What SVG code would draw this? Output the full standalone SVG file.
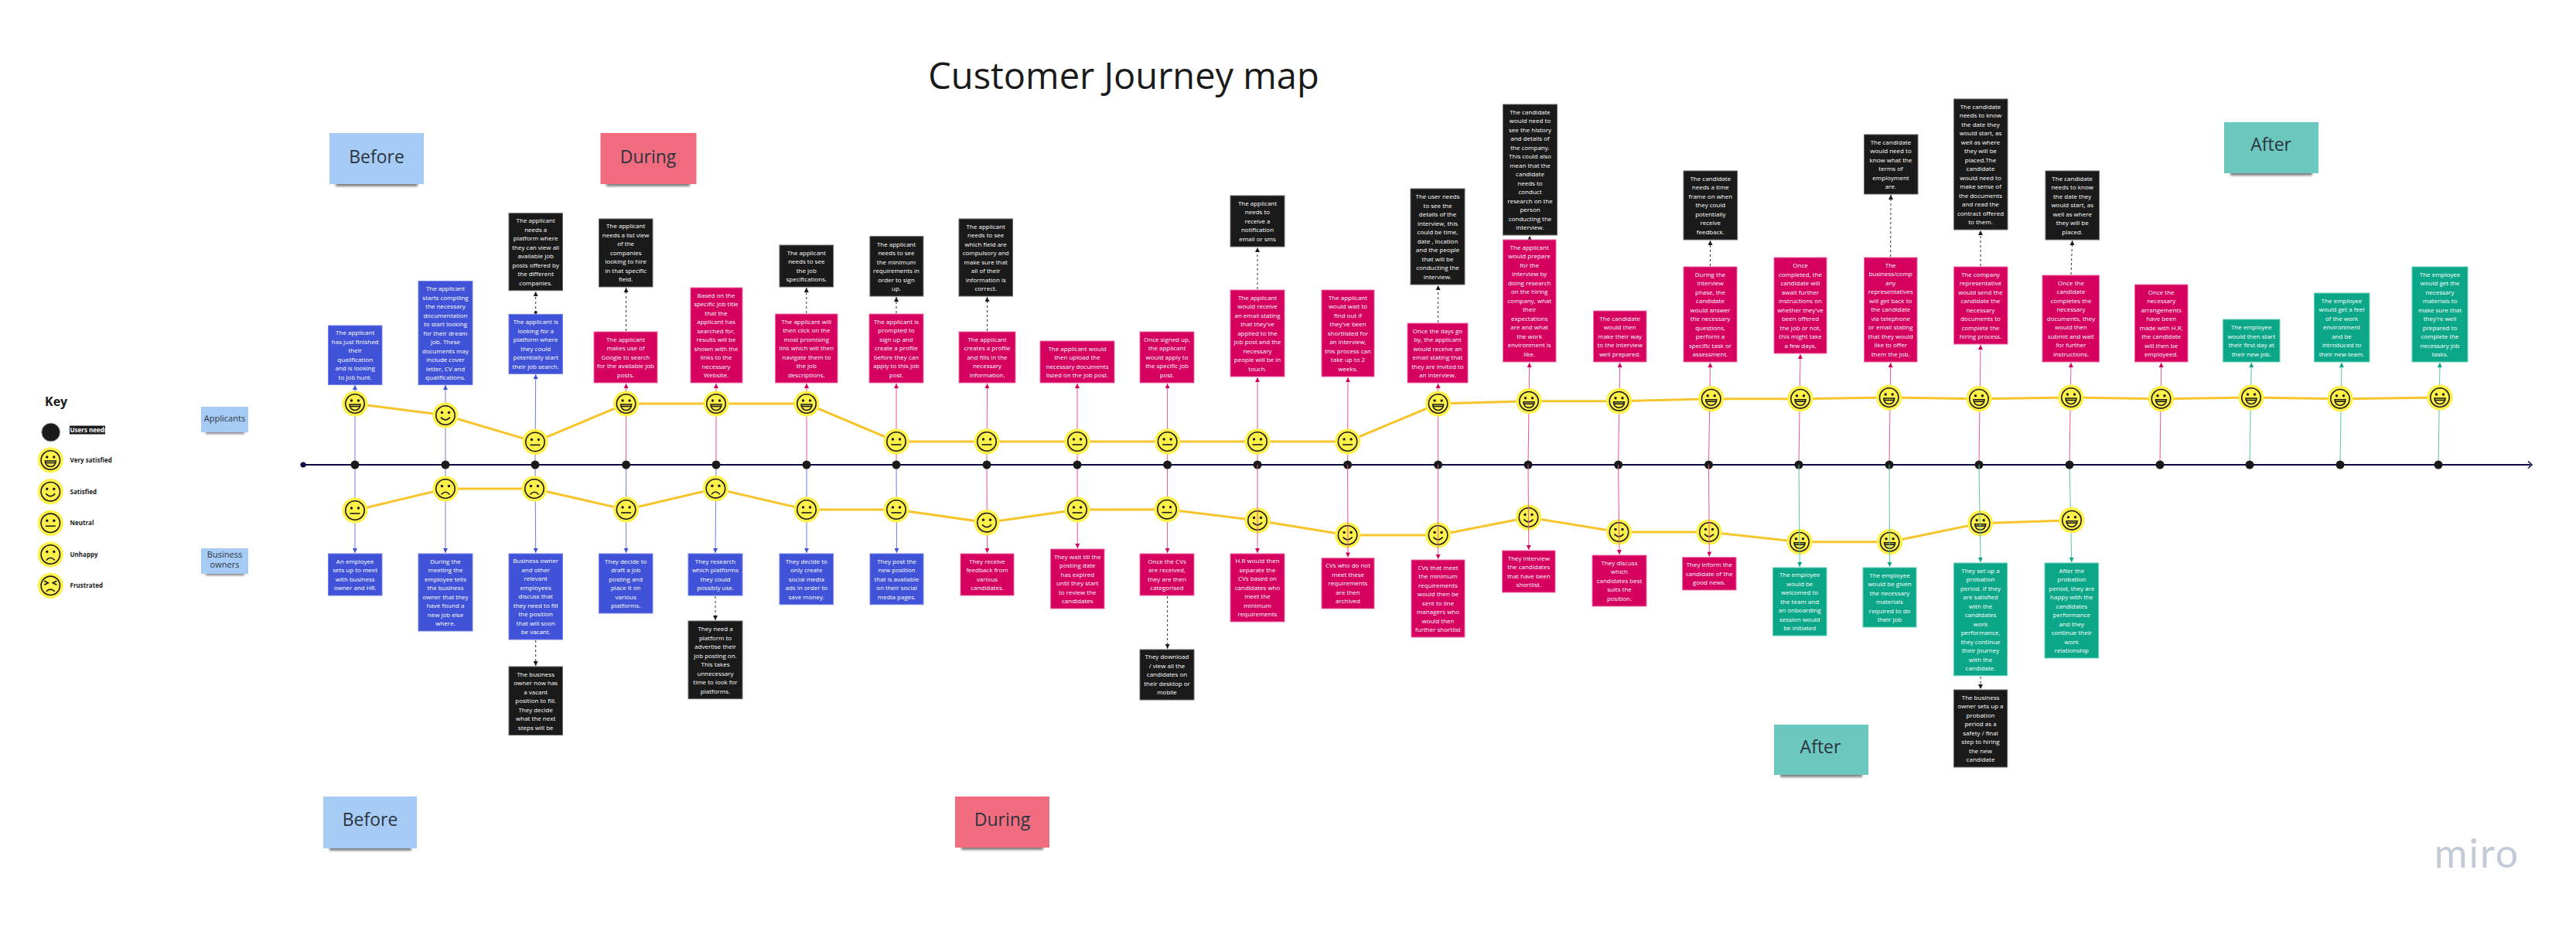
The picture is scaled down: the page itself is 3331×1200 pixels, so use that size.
<svg xmlns="http://www.w3.org/2000/svg" width="3331" height="1200" viewBox="0 0 3331 1200">
<style>
text{font-family:"Open Sans","Noto Sans","Liberation Sans",sans-serif}
.t{font-size:8px;fill:#fff;text-anchor:middle}
.bl{fill:#4053d8;stroke:#7484e8;stroke-width:1}
.pk{fill:#d5005f;stroke:#ef70aa;stroke-width:1}
.gr{fill:#0ca789;stroke:#66d2bc;stroke-width:1}
.bk{fill:#1a1a1a;stroke:#6a6a6a;stroke-width:1}
.st{font-size:23px;fill:#2c3440;text-anchor:middle}
.sm{font-size:11px;fill:#2c3440;text-anchor:middle}
.k{font-size:8px;font-weight:700;fill:#1a1a1a}
.sh{fill:#000;opacity:.5;filter:url(#blur)}
.cb{stroke:#6f7cdc;stroke-width:1;fill:none;marker-end:url(#ab)}
.cp{stroke:#e4559c;stroke-width:1;fill:none;marker-end:url(#ap)}
.cg{stroke:#58c2ac;stroke-width:1;fill:none;marker-end:url(#ag)}
.cd{stroke:#333;stroke-width:1;fill:none;stroke-dasharray:3 3;marker-end:url(#ak)}
.mood{stroke:#f7c52b;stroke-width:3;fill:none}
.fl{fill:#1a1a1a;stroke:none}
.fs{fill:none;stroke:#1a1a1a;stroke-width:1.6}
</style>
<defs>
<filter id="blur" x="-20%" y="-200%" width="140%" height="500%"><feGaussianBlur stdDeviation="1.8"/></filter>
<marker id="ab" markerUnits="userSpaceOnUse" markerWidth="7" markerHeight="7" refX="6" refY="3" orient="auto"><path d="M0 0L6 3L0 6Z" fill="#4053d8"/></marker>
<marker id="ap" markerUnits="userSpaceOnUse" markerWidth="7" markerHeight="7" refX="6" refY="3" orient="auto"><path d="M0 0L6 3L0 6Z" fill="#d5005f"/></marker>
<marker id="ag" markerUnits="userSpaceOnUse" markerWidth="7" markerHeight="7" refX="6" refY="3" orient="auto"><path d="M0 0L6 3L0 6Z" fill="#0ca789"/></marker>
<marker id="ak" markerUnits="userSpaceOnUse" markerWidth="7" markerHeight="7" refX="6" refY="3" orient="auto"><path d="M0 0L6 3L0 6Z" fill="#1a1a1a"/></marker>
<g id="vs"><circle r="16.6" fill="#fef24a"/><circle r="12.2" class="fs"/><circle cx="-4.5" cy="-4" r="1.7" class="fl"/><circle cx="4.5" cy="-4" r="1.7" class="fl"/><path d="M-7 1H7C7 6 3.5 8.5 0 8.5C-3.5 8.5-7 6-7 1Z" class="fs"/><path d="M-6.5 3.5H6.5" class="fs"/></g>
<g id="sa"><circle r="16.6" fill="#fef24a"/><circle r="12.2" class="fs"/><circle cx="-4.5" cy="-3.5" r="1.7" class="fl"/><circle cx="4.5" cy="-3.5" r="1.7" class="fl"/><path d="M-6 2.5Q0 9.5 6 2.5" class="fs"/></g>
<g id="ne"><circle r="16.6" fill="#fef24a"/><circle r="12.2" class="fs"/><circle cx="-4.5" cy="-3" r="1.7" class="fl"/><circle cx="4.5" cy="-3" r="1.7" class="fl"/><path d="M-6.5 4H6.5" class="fs"/></g>
<g id="un"><circle r="16.6" fill="#fef24a"/><circle r="12.2" class="fs"/><circle cx="-4.5" cy="-3.5" r="1.7" class="fl"/><circle cx="4.5" cy="-3.5" r="1.7" class="fl"/><path d="M-5.5 7.5Q0 1 5.5 7.5" class="fs"/></g>
<g id="fr"><circle r="16.6" fill="#fef24a"/><circle r="12.2" class="fs"/><path d="M-8-6L-3-3.5L-8-1M8-6L3-3.5L8-1" class="fs"/><path d="M-5.5 7.5Q0 2 5.5 7.5" class="fs"/></g>
</defs>

<text id="title" x="1453" y="115" font-size="47" fill="#1a1a1a" text-anchor="middle">Customer Journey map</text>

<g id="sticky-before-top"><rect x="434" y="235" width="106" height="6" class="sh"/><rect x="426" y="172" width="122" height="66" fill="#a6ccf5"/><text x="487" y="211" class="st">Before</text></g>
<g id="sticky-during-top"><rect x="784" y="235" width="108" height="6" class="sh"/><rect x="776.5" y="172" width="124" height="66" fill="#f16c7f"/><text x="838" y="211" class="st">During</text></g>
<g id="sticky-after-top"><rect x="2884" y="221" width="106" height="6" class="sh"/><rect x="2876" y="158" width="122" height="66" fill="#6cc8bf"/><text x="2936.6" y="195" class="st">After</text></g>
<g id="sticky-before-bottom"><rect x="426" y="1094" width="106" height="6" class="sh"/><rect x="418" y="1030" width="121" height="67" fill="#a6ccf5"/><text x="478.6" y="1068" class="st">Before</text></g>
<g id="sticky-during-bottom"><rect x="1243" y="1093" width="106" height="6" class="sh"/><rect x="1235" y="1030" width="122" height="66" fill="#f16c7f"/><text x="1296" y="1068" class="st">During</text></g>
<g id="sticky-after-bottom"><rect x="2302" y="999" width="106" height="6" class="sh"/><rect x="2294" y="937" width="122" height="65" fill="#6cc8bf"/><text x="2354" y="974" class="st">After</text></g>
<g id="sticky-applicants"><rect x="266" y="557" width="50" height="4" class="sh"/><rect x="260" y="526" width="61" height="33" fill="#a6ccf5"/><text x="290.5" y="544.5" class="sm">Applicants</text></g>
<g id="sticky-owners"><rect x="266" y="740" width="50" height="4" class="sh"/><rect x="260" y="709" width="61" height="33" fill="#a6ccf5"/><text x="290.5" y="720.5" class="sm">Business</text><text x="290.5" y="734" class="sm">owners</text></g>

<g id="key">
<text x="58" y="525" font-size="16" font-weight="700" fill="#1a1a1a">Key</text>
<circle cx="65.7" cy="559" r="12" fill="#1a1a1a" stroke="#bbb" stroke-width="1"/>
<rect x="90" y="550.5" width="46" height="11" fill="#1a1a1a"/><text x="90.5" y="559" class="k" style="fill:#fff">Users needs</text>
<use href="#vs" x="65.3" y="595"/><text x="90.5" y="598" class="k">Very satisfied</text>
<use href="#sa" x="65.3" y="635.7"/><text x="90.5" y="639" class="k">Satisfied</text>
<use href="#ne" x="65.3" y="676.3"/><text x="90.5" y="679" class="k">Neutral</text>
<use href="#un" x="65.3" y="717"/><text x="90.5" y="720" class="k">Unhappy</text>
<use href="#fr" x="65.3" y="757.3"/><text x="90.5" y="760" class="k">Frustrated</text>
</g>

<g id="connectors">
<path d="M392 601H3272" stroke="#0d0b45" stroke-width="2" fill="none"/>
<path d="M3269 596.5L3274 601L3269 605.5" stroke="#0d0b45" stroke-width="1.6" fill="none"/>
<path class="cb" d="M459 601L459 498"/><path class="cb" d="M576 601L576 498"/><path class="cb" d="M692 601L692.7 484"/>
<path class="cp" d="M809.6 601L809.6 496"/><path class="cp" d="M926 601L926 496"/><path class="cp" d="M1043 601L1043 496"/><path class="cp" d="M1159 601L1159 496"/><path class="cp" d="M1276 601L1276.5 496"/><path class="cp" d="M1393 601L1393 496"/><path class="cp" d="M1509.6 601L1509.6 496"/><path class="cp" d="M1626 601L1626 488"/><path class="cp" d="M1742.6 601L1743 488"/><path class="cp" d="M1859.6 601L1859.6 496"/><path class="cp" d="M1976 601L1977.7 469"/><path class="cp" d="M2092.6 601L2094.7 469"/><path class="cp" d="M2209.5 601L2211.5 469"/><path class="cp" d="M2326 601L2328 458"/><path class="cp" d="M2443 601L2444.7 469"/><path class="cp" d="M2559 601L2561 446"/><path class="cp" d="M2676 601L2678 469"/><path class="cp" d="M2793 601L2794.7 469"/>
<path class="cg" d="M2909 601L2911.3 469"/><path class="cg" d="M3026 601L3028 469"/><path class="cg" d="M3153 601L3155 469"/>
<path class="cb" d="M459 601L459 715"/><path class="cb" d="M576 601L576 715"/><path class="cb" d="M692 601L692.7 715"/><path class="cb" d="M809.6 601L809.6 715"/><path class="cb" d="M926 601L925 715"/><path class="cb" d="M1043 601L1043 715"/><path class="cb" d="M1159 601L1159.5 715"/>
<path class="cp" d="M1276 601L1276.5 715"/><path class="cp" d="M1393 601L1393.3 709"/><path class="cp" d="M1509.6 601L1509.6 715"/>
<path class="cg" d="M2676 601L2678.8 727"/>
<path class="cd" d="M692.7 405L692.7 377"/><circle cx="692.7" cy="404" r="2" fill="#1a1a1a"/>
<path class="cd" d="M809.6 428L809.6 372"/><path class="cd" d="M1042.8 405L1042.8 372"/><path class="cd" d="M1159 405L1159 384"/><path class="cd" d="M1276.5 428L1276.5 384"/>
<path class="cd" d="M1626 374L1626 320"/><path class="cd" d="M1859.6 417L1859.6 369"/><path class="cd" d="M1978 309L1978 305"/><path class="cd" d="M2211.5 344L2211.5 311"/><path class="cd" d="M2444.7 332L2445 252"/><path class="cd" d="M2561 344L2561 298"/><path class="cd" d="M2678 355L2679.7 311"/>
<path class="cd" d="M692.7 828L692.7 861"/><path class="cd" d="M925 771L925 802"/><path class="cd" d="M1509.6 771L1509.6 839"/><path class="cd" d="M2561 875L2561 891"/>
<path class="mood" d="M459 522L576 537L692 571.4L809.6 522L926 522L1043 522L1159 571L1276 571L1393 571L1509.6 571L1626 571L1742.6 571L1859.6 522L1977 518.7L2093.5 518.7L2212.7 515.7L2328 515.7L2442.7 514L2559 515.7L2678 514L2794.5 515.7L2911 514L3026 515.7L3155 514"/>
<path class="mood" d="M459 660L576 632L691 632L809.6 659L925.4 631.7L1043 659L1159 659L1276 675.7L1393 659L1509 658.7L1626 673L1742.6 692L1859.6 692L1976.5 669L2093.5 688L2210 688L2327 700.7L2443.6 700.7L2560.7 676.7L2679 672.7"/>
</g>

<g id="axis-dots" fill="#1a1a1a">
<circle cx="392" cy="601" r="3.6" fill="#0d0b45"/>
<circle cx="459" cy="601" r="5.5"/><circle cx="576" cy="601" r="5.5"/><circle cx="692" cy="601" r="5.5"/><circle cx="809.6" cy="601" r="5.5"/><circle cx="926" cy="601" r="5.5"/><circle cx="1043" cy="601" r="5.5"/><circle cx="1159" cy="601" r="5.5"/><circle cx="1276" cy="601" r="5.5"/><circle cx="1393" cy="601" r="5.5"/><circle cx="1509.6" cy="601" r="5.5"/><circle cx="1626" cy="601" r="5.5"/><circle cx="1742.6" cy="601" r="5.5"/><circle cx="1859.6" cy="601" r="5.5"/><circle cx="1976" cy="601" r="5.5"/><circle cx="2092.6" cy="601" r="5.5"/><circle cx="2209.5" cy="601" r="5.5"/><circle cx="2326" cy="601" r="5.5"/><circle cx="2443" cy="601" r="5.5"/><circle cx="2559" cy="601" r="5.5"/><circle cx="2676" cy="601" r="5.5"/><circle cx="2793" cy="601" r="5.5"/><circle cx="2909" cy="601" r="5.5"/><circle cx="3026" cy="601" r="5.5"/><circle cx="3153" cy="601" r="5.5"/>
</g>

<g id="faces">
<use id="fa1" href="#vs" x="459" y="522"/><use id="fa2" href="#sa" x="576" y="537"/><use id="fa3" href="#ne" x="692" y="571.4"/><use id="fa4" href="#vs" x="809.6" y="522"/><use id="fa5" href="#vs" x="926" y="522"/><use id="fa6" href="#vs" x="1043" y="522"/><use id="fa7" href="#ne" x="1159" y="571"/><use id="fa8" href="#ne" x="1276" y="571"/><use id="fa9" href="#ne" x="1393" y="571"/><use id="fa10" href="#ne" x="1509.6" y="571"/><use id="fa11" href="#ne" x="1626" y="571"/><use id="fa12" href="#ne" x="1742.6" y="571"/><use id="fa13" href="#vs" x="1859.6" y="522"/><use id="fa14" href="#vs" x="1977" y="518.7"/><use id="fa15" href="#vs" x="2093.5" y="518.7"/><use id="fa16" href="#vs" x="2212.7" y="515.7"/><use id="fa17" href="#vs" x="2328" y="515.7"/><use id="fa18" href="#vs" x="2442.7" y="514"/><use id="fa19" href="#vs" x="2559" y="515.7"/><use id="fa20" href="#vs" x="2678" y="514"/><use id="fa21" href="#vs" x="2794.5" y="515.7"/><use id="fa22" href="#vs" x="2911" y="514"/><use id="fa23" href="#vs" x="3026" y="515.7"/><use id="fa24" href="#vs" x="3155" y="514"/>
<use id="fb1" href="#ne" x="459" y="660"/><use id="fb2" href="#un" x="576" y="632"/><use id="fb3" href="#un" x="691" y="632"/><use id="fb4" href="#ne" x="809.6" y="659"/><use id="fb5" href="#un" x="925.4" y="631.7"/><use id="fb6" href="#ne" x="1043" y="659"/><use id="fb7" href="#ne" x="1159" y="659"/><use id="fb8" href="#sa" x="1276" y="675.7"/><use id="fb9" href="#ne" x="1393" y="659"/><use id="fb10" href="#ne" x="1509" y="658.7"/><use id="fb11" href="#sa" x="1626" y="673"/><use id="fb12" href="#sa" x="1742.6" y="692"/><use id="fb13" href="#sa" x="1859.6" y="692"/><use id="fb14" href="#sa" x="1976.5" y="669"/><use id="fb15" href="#sa" x="2093.5" y="688"/><use id="fb16" href="#sa" x="2210" y="688"/><use id="fb17" href="#vs" x="2327" y="700.7"/><use id="fb18" href="#vs" x="2443.6" y="700.7"/><use id="fb19" href="#vs" x="2560.7" y="676.7"/><use id="fb20" href="#vs" x="2679" y="672.7"/>
</g>

<g id="connectors-over">
<path class="cp" d="M1626 601L1626 715"/><path class="cp" d="M1742.6 601L1743 720.5"/><path class="cp" d="M1859.6 601L1859.6 723"/><path class="cp" d="M1976 601L1976.8 711"/><path class="cp" d="M2092.6 601L2094 717"/><path class="cp" d="M2209.5 601L2210.3 719.5"/>
<path class="cg" d="M2326 601L2327.2 733"/><path class="cg" d="M2443 601L2443.5 733"/><path class="cg" d="M2559 601L2561 727"/>
</g>

<g id="a1"><rect class="bl" x="424.5" y="421" width="69.5" height="76.5"/><text class="t" y="433.3"><tspan x="459.2">The applicant</tspan><tspan x="459.2" dy="11.5">has just finished</tspan><tspan x="459.2" dy="11.5">their</tspan><tspan x="459.2" dy="11.5">qualification</tspan><tspan x="459.2" dy="11.5">and is looking</tspan><tspan x="459.2" dy="11.5">to job hunt.</tspan></text></g>
<g id="a2"><rect class="bl" x="541" y="363.6" width="70" height="134"/><text class="t" y="376"><tspan x="576">The applicant</tspan><tspan x="576" dy="11.5">starts compiling</tspan><tspan x="576" dy="11.5">the necessary</tspan><tspan x="576" dy="11.5">documentation</tspan><tspan x="576" dy="11.5">to start looking</tspan><tspan x="576" dy="11.5">for their dream</tspan><tspan x="576" dy="11.5">job. These</tspan><tspan x="576" dy="11.5">documents may</tspan><tspan x="576" dy="11.5">include cover</tspan><tspan x="576" dy="11.5">letter, CV and</tspan><tspan x="576" dy="11.5">qualifications.</tspan></text></g>
<g id="a3"><rect class="bl" x="658" y="406.4" width="69.5" height="77"/><text class="t" y="419.1"><tspan x="692.7">The applicant is</tspan><tspan x="692.7" dy="11.5">looking for a</tspan><tspan x="692.7" dy="11.5">platform where</tspan><tspan x="692.7" dy="11.5">they could</tspan><tspan x="692.7" dy="11.5">potentially start</tspan><tspan x="692.7" dy="11.5">their job search.</tspan></text></g>
<g id="a3n"><rect class="bk" x="658" y="275.7" width="69.5" height="100"/><text class="t" y="288.4"><tspan x="692.7">The applicant</tspan><tspan x="692.7" dy="11.5">needs a</tspan><tspan x="692.7" dy="11.5">platform where</tspan><tspan x="692.7" dy="11.5">they can view all</tspan><tspan x="692.7" dy="11.5">available job</tspan><tspan x="692.7" dy="11.5">posts offered by</tspan><tspan x="692.7" dy="11.5">the different</tspan><tspan x="692.7" dy="11.5">companies.</tspan></text></g>
<g id="a4"><rect class="pk" x="768" y="429" width="82" height="66"/><text class="t" y="441.9"><tspan x="809">The applicant</tspan><tspan x="809" dy="11.5">makes use of</tspan><tspan x="809" dy="11.5">Google to search</tspan><tspan x="809" dy="11.5">for the available job</tspan><tspan x="809" dy="11.5">posts.</tspan></text></g>
<g id="a4n"><rect class="bk" x="774.5" y="283" width="69.5" height="88"/><text class="t" y="295.4"><tspan x="809.2">The applicant</tspan><tspan x="809.2" dy="11.5">needs a list view</tspan><tspan x="809.2" dy="11.5">of the</tspan><tspan x="809.2" dy="11.5">companies</tspan><tspan x="809.2" dy="11.5">looking to hire</tspan><tspan x="809.2" dy="11.5">in that specific</tspan><tspan x="809.2" dy="11.5">field.</tspan></text></g>
<g id="a5"><rect class="pk" x="893" y="372" width="67" height="123"/><text class="t" y="384.6"><tspan x="926">Based on the</tspan><tspan x="926" dy="11.5">specific job title</tspan><tspan x="926" dy="11.5">that the</tspan><tspan x="926" dy="11.5">applicant has</tspan><tspan x="926" dy="11.5">searched for,</tspan><tspan x="926" dy="11.5">results will be</tspan><tspan x="926" dy="11.5">shown with the</tspan><tspan x="926" dy="11.5">links to the</tspan><tspan x="926" dy="11.5">necessary</tspan><tspan x="926" dy="11.5">Website.</tspan></text></g>
<g id="a6"><rect class="pk" x="1002.5" y="406" width="80.5" height="89"/><text class="t" y="418.9"><tspan x="1042.8">The applicant will</tspan><tspan x="1042.8" dy="11.5">then click on the</tspan><tspan x="1042.8" dy="11.5">most promising</tspan><tspan x="1042.8" dy="11.5">link which will then</tspan><tspan x="1042.8" dy="11.5">navigate them to</tspan><tspan x="1042.8" dy="11.5">the job</tspan><tspan x="1042.8" dy="11.5">descriptions.</tspan></text></g>
<g id="a6n"><rect class="bk" x="1008" y="317" width="69.5" height="54"/><text class="t" y="329.7"><tspan x="1042.8">The applicant</tspan><tspan x="1042.8" dy="11.5">needs to see</tspan><tspan x="1042.8" dy="11.5">the job</tspan><tspan x="1042.8" dy="11.5">specifications.</tspan></text></g>
<g id="a7"><rect class="pk" x="1124" y="406" width="70" height="89"/><text class="t" y="418.9"><tspan x="1159">The applicant is</tspan><tspan x="1159" dy="11.5">prompted to</tspan><tspan x="1159" dy="11.5">sign up and</tspan><tspan x="1159" dy="11.5">create a profile</tspan><tspan x="1159" dy="11.5">before they can</tspan><tspan x="1159" dy="11.5">apply to this job</tspan><tspan x="1159" dy="11.5">post.</tspan></text></g>
<g id="a7n"><rect class="bk" x="1124.9" y="305.7" width="69" height="77.3"/><text class="t" y="318.5"><tspan x="1159">The applicant</tspan><tspan x="1159" dy="11.5">needs to see</tspan><tspan x="1159" dy="11.5">the minimum</tspan><tspan x="1159" dy="11.5">requirements in</tspan><tspan x="1159" dy="11.5">order to sign</tspan><tspan x="1159" dy="11.5">up.</tspan></text></g>
<g id="a8"><rect class="pk" x="1240" y="429" width="73" height="66"/><text class="t" y="441.9"><tspan x="1276.5">The applicant</tspan><tspan x="1276.5" dy="11.5">creates a profile</tspan><tspan x="1276.5" dy="11.5">and fills in the</tspan><tspan x="1276.5" dy="11.5">necessary</tspan><tspan x="1276.5" dy="11.5">information.</tspan></text></g>
<g id="a8n"><rect class="bk" x="1240" y="283" width="69.5" height="100"/><text class="t" y="295.65"><tspan x="1274.7">The applicant</tspan><tspan x="1274.7" dy="11.5">needs to see</tspan><tspan x="1274.7" dy="11.5">which field are</tspan><tspan x="1274.7" dy="11.5">compulsory and</tspan><tspan x="1274.7" dy="11.5">make sure that</tspan><tspan x="1274.7" dy="11.5">all of their</tspan><tspan x="1274.7" dy="11.5">information is</tspan><tspan x="1274.7" dy="11.5">correct.</tspan></text></g>
<g id="a9"><rect class="pk" x="1345" y="441" width="96" height="54"/><text class="t" y="453.65"><tspan x="1393">The applicant would</tspan><tspan x="1393" dy="11.5">then upload the</tspan><tspan x="1393" dy="11.5">necessary documents</tspan><tspan x="1393" dy="11.5">listed on the job post.</tspan></text></g>
<g id="a10"><rect class="pk" x="1474" y="429" width="70" height="66"/><text class="t" y="441.9"><tspan x="1509">Once signed up,</tspan><tspan x="1509" dy="11.5">the applicant</tspan><tspan x="1509" dy="11.5">would apply to</tspan><tspan x="1509" dy="11.5">the specific job</tspan><tspan x="1509" dy="11.5">post.</tspan></text></g>
<g id="a11"><rect class="pk" x="1591" y="375" width="70" height="112"/><text class="t" y="387.9"><tspan x="1626">The applicant</tspan><tspan x="1626" dy="11.5">would receive</tspan><tspan x="1626" dy="11.5">an email stating</tspan><tspan x="1626" dy="11.5">that they've</tspan><tspan x="1626" dy="11.5">applied to the</tspan><tspan x="1626" dy="11.5">job post and the</tspan><tspan x="1626" dy="11.5">necessary</tspan><tspan x="1626" dy="11.5">people will be in</tspan><tspan x="1626" dy="11.5">touch.</tspan></text></g>
<g id="a11n"><rect class="bk" x="1591" y="253" width="70" height="66"/><text class="t" y="265.9"><tspan x="1626">The applicant</tspan><tspan x="1626" dy="11.5">needs to</tspan><tspan x="1626" dy="11.5">receive a</tspan><tspan x="1626" dy="11.5">notification</tspan><tspan x="1626" dy="11.5">email or sms</tspan></text></g>
<g id="a12"><rect class="pk" x="1709" y="375" width="68" height="112"/><text class="t" y="387.9"><tspan x="1743">The applicant</tspan><tspan x="1743" dy="11.5">would wait to</tspan><tspan x="1743" dy="11.5">find out if</tspan><tspan x="1743" dy="11.5">they've been</tspan><tspan x="1743" dy="11.5">shortlisted for</tspan><tspan x="1743" dy="11.5">an interview,</tspan><tspan x="1743" dy="11.5">this process can</tspan><tspan x="1743" dy="11.5">take up to 2</tspan><tspan x="1743" dy="11.5">weeks.</tspan></text></g>
<g id="a13"><rect class="pk" x="1820" y="418" width="78" height="77"/><text class="t" y="430.65"><tspan x="1859">Once the days go</tspan><tspan x="1859" dy="11.5">by, the applicant</tspan><tspan x="1859" dy="11.5">would receive an</tspan><tspan x="1859" dy="11.5">email stating that</tspan><tspan x="1859" dy="11.5">they are invited to</tspan><tspan x="1859" dy="11.5">an interview.</tspan></text></g>
<g id="a13n"><rect class="bk" x="1824" y="244" width="70" height="124"/><text class="t" y="257.15"><tspan x="1859">The user needs</tspan><tspan x="1859" dy="11.5">to see the</tspan><tspan x="1859" dy="11.5">details of the</tspan><tspan x="1859" dy="11.5">interview, this</tspan><tspan x="1859" dy="11.5">could be time,</tspan><tspan x="1859" dy="11.5">date , location</tspan><tspan x="1859" dy="11.5">and the people</tspan><tspan x="1859" dy="11.5">that will be</tspan><tspan x="1859" dy="11.5">conducting the</tspan><tspan x="1859" dy="11.5">interview.</tspan></text></g>
<g id="a14"><rect class="pk" x="1943.5" y="310" width="68.5" height="158"/><text class="t" y="322.9"><tspan x="1977.7">The applicant</tspan><tspan x="1977.7" dy="11.5">would prepare</tspan><tspan x="1977.7" dy="11.5">for the</tspan><tspan x="1977.7" dy="11.5">interview by</tspan><tspan x="1977.7" dy="11.5">doing research</tspan><tspan x="1977.7" dy="11.5">on the hiring</tspan><tspan x="1977.7" dy="11.5">company, what</tspan><tspan x="1977.7" dy="11.5">their</tspan><tspan x="1977.7" dy="11.5">expectations</tspan><tspan x="1977.7" dy="11.5">are and what</tspan><tspan x="1977.7" dy="11.5">the work</tspan><tspan x="1977.7" dy="11.5">environment is</tspan><tspan x="1977.7" dy="11.5">like.</tspan></text></g>
<g id="a14n"><rect class="bk" x="1943.5" y="135" width="70" height="169"/><text class="t" y="147.65"><tspan x="1978.5">The candidate</tspan><tspan x="1978.5" dy="11.5">would need to</tspan><tspan x="1978.5" dy="11.5">see the history</tspan><tspan x="1978.5" dy="11.5">and details of</tspan><tspan x="1978.5" dy="11.5">the company.</tspan><tspan x="1978.5" dy="11.5">This could also</tspan><tspan x="1978.5" dy="11.5">mean that the</tspan><tspan x="1978.5" dy="11.5">candidate</tspan><tspan x="1978.5" dy="11.5">needs to</tspan><tspan x="1978.5" dy="11.5">conduct</tspan><tspan x="1978.5" dy="11.5">research on the</tspan><tspan x="1978.5" dy="11.5">person</tspan><tspan x="1978.5" dy="11.5">conducting the</tspan><tspan x="1978.5" dy="11.5">interview.</tspan></text></g>
<g id="a15"><rect class="pk" x="2060.5" y="402" width="68.5" height="66"/><text class="t" y="414.9"><tspan x="2094.7">The candidate</tspan><tspan x="2094.7" dy="11.5">would then</tspan><tspan x="2094.7" dy="11.5">make their way</tspan><tspan x="2094.7" dy="11.5">to the interview</tspan><tspan x="2094.7" dy="11.5">well prepared.</tspan></text></g>
<g id="a16"><rect class="pk" x="2177" y="345" width="69" height="123"/><text class="t" y="357.65"><tspan x="2211.5">During the</tspan><tspan x="2211.5" dy="11.5">interview</tspan><tspan x="2211.5" dy="11.5">phase, the</tspan><tspan x="2211.5" dy="11.5">candidate</tspan><tspan x="2211.5" dy="11.5">would answer</tspan><tspan x="2211.5" dy="11.5">the necessary</tspan><tspan x="2211.5" dy="11.5">questions,</tspan><tspan x="2211.5" dy="11.5">perform a</tspan><tspan x="2211.5" dy="11.5">specific task or</tspan><tspan x="2211.5" dy="11.5">assessment.</tspan></text></g>
<g id="a16n"><rect class="bk" x="2177" y="221" width="69.6" height="89"/><text class="t" y="233.9"><tspan x="2211.8">The candidate</tspan><tspan x="2211.8" dy="11.5">needs a time</tspan><tspan x="2211.8" dy="11.5">frame on when</tspan><tspan x="2211.8" dy="11.5">they could</tspan><tspan x="2211.8" dy="11.5">potentially</tspan><tspan x="2211.8" dy="11.5">receive</tspan><tspan x="2211.8" dy="11.5">feedback.</tspan></text></g>
<g id="a17"><rect class="pk" x="2294" y="333" width="68" height="124"/><text class="t" y="346.15"><tspan x="2328">Once</tspan><tspan x="2328" dy="11.5">completed, the</tspan><tspan x="2328" dy="11.5">candidate will</tspan><tspan x="2328" dy="11.5">await further</tspan><tspan x="2328" dy="11.5">instructions on</tspan><tspan x="2328" dy="11.5">whether they've</tspan><tspan x="2328" dy="11.5">been offered</tspan><tspan x="2328" dy="11.5">the job or not,</tspan><tspan x="2328" dy="11.5">this might take</tspan><tspan x="2328" dy="11.5">a few days.</tspan></text></g>
<g id="a18"><rect class="pk" x="2410.5" y="333" width="68.5" height="135"/><text class="t" y="345.9"><tspan x="2444.7">The</tspan><tspan x="2444.7" dy="11.5">business/comp</tspan><tspan x="2444.7" dy="11.5">any</tspan><tspan x="2444.7" dy="11.5">representatives</tspan><tspan x="2444.7" dy="11.5">will get back to</tspan><tspan x="2444.7" dy="11.5">the candidate</tspan><tspan x="2444.7" dy="11.5">via telephone</tspan><tspan x="2444.7" dy="11.5">or email stating</tspan><tspan x="2444.7" dy="11.5">that they would</tspan><tspan x="2444.7" dy="11.5">like to offer</tspan><tspan x="2444.7" dy="11.5">them the job.</tspan></text></g>
<g id="a18n"><rect class="bk" x="2410.5" y="174" width="69.5" height="77"/><text class="t" y="186.65"><tspan x="2445">The candidate</tspan><tspan x="2445" dy="11.5">would need to</tspan><tspan x="2445" dy="11.5">know what the</tspan><tspan x="2445" dy="11.5">terms of</tspan><tspan x="2445" dy="11.5">employment</tspan><tspan x="2445" dy="11.5">are.</tspan></text></g>
<g id="a19"><rect class="pk" x="2526.6" y="345" width="69.4" height="100"/><text class="t" y="357.65"><tspan x="2561">The company</tspan><tspan x="2561" dy="11.5">representative</tspan><tspan x="2561" dy="11.5">would send the</tspan><tspan x="2561" dy="11.5">candidate the</tspan><tspan x="2561" dy="11.5">necessary</tspan><tspan x="2561" dy="11.5">documents to</tspan><tspan x="2561" dy="11.5">complete the</tspan><tspan x="2561" dy="11.5">hiring process.</tspan></text></g>
<g id="a19n"><rect class="bk" x="2526.6" y="128" width="69.4" height="169"/><text class="t" y="140.65"><tspan x="2561">The candidate</tspan><tspan x="2561" dy="11.5">needs to know</tspan><tspan x="2561" dy="11.5">the date they</tspan><tspan x="2561" dy="11.5">would start, as</tspan><tspan x="2561" dy="11.5">well as where</tspan><tspan x="2561" dy="11.5">they will be</tspan><tspan x="2561" dy="11.5">placed.The</tspan><tspan x="2561" dy="11.5">candidate</tspan><tspan x="2561" dy="11.5">would need to</tspan><tspan x="2561" dy="11.5">make sense of</tspan><tspan x="2561" dy="11.5">the documents</tspan><tspan x="2561" dy="11.5">and read the</tspan><tspan x="2561" dy="11.5">contract offered</tspan><tspan x="2561" dy="11.5">to them.</tspan></text></g>
<g id="a20"><rect class="pk" x="2641" y="356" width="73.5" height="112"/><text class="t" y="368.9"><tspan x="2678">Once the</tspan><tspan x="2678" dy="11.5">candidate</tspan><tspan x="2678" dy="11.5">completes the</tspan><tspan x="2678" dy="11.5">necessary</tspan><tspan x="2678" dy="11.5">documents, they</tspan><tspan x="2678" dy="11.5">would then</tspan><tspan x="2678" dy="11.5">submit and wait</tspan><tspan x="2678" dy="11.5">for further</tspan><tspan x="2678" dy="11.5">instructions.</tspan></text></g>
<g id="a20n"><rect class="bk" x="2645" y="221" width="69.5" height="89"/><text class="t" y="233.9"><tspan x="2679.7">The candidate</tspan><tspan x="2679.7" dy="11.5">needs to know</tspan><tspan x="2679.7" dy="11.5">the date they</tspan><tspan x="2679.7" dy="11.5">would start, as</tspan><tspan x="2679.7" dy="11.5">well as where</tspan><tspan x="2679.7" dy="11.5">they will be</tspan><tspan x="2679.7" dy="11.5">placed.</tspan></text></g>
<g id="a21"><rect class="pk" x="2760.5" y="368" width="68.5" height="100"/><text class="t" y="380.65"><tspan x="2794.7">Once the</tspan><tspan x="2794.7" dy="11.5">necessary</tspan><tspan x="2794.7" dy="11.5">arrangements</tspan><tspan x="2794.7" dy="11.5">have been</tspan><tspan x="2794.7" dy="11.5">made with H.R,</tspan><tspan x="2794.7" dy="11.5">the candidate</tspan><tspan x="2794.7" dy="11.5">will then be</tspan><tspan x="2794.7" dy="11.5">employeed.</tspan></text></g>
<g id="a22"><rect class="gr" x="2874.6" y="413" width="73.4" height="55"/><text class="t" y="426.15"><tspan x="2911.3">The employee</tspan><tspan x="2911.3" dy="11.5">would then start</tspan><tspan x="2911.3" dy="11.5">their first day at</tspan><tspan x="2911.3" dy="11.5">their new job.</tspan></text></g>
<g id="a23"><rect class="gr" x="2992.5" y="379" width="71.5" height="89"/><text class="t" y="391.9"><tspan x="3028">The employee</tspan><tspan x="3028" dy="11.5">would get a feel</tspan><tspan x="3028" dy="11.5">of the work</tspan><tspan x="3028" dy="11.5">environment</tspan><tspan x="3028" dy="11.5">and be</tspan><tspan x="3028" dy="11.5">introduced to</tspan><tspan x="3028" dy="11.5">their new team.</tspan></text></g>
<g id="a24"><rect class="gr" x="3119" y="345" width="72" height="123"/><text class="t" y="357.65"><tspan x="3155">The employee</tspan><tspan x="3155" dy="11.5">would get the</tspan><tspan x="3155" dy="11.5">necessary</tspan><tspan x="3155" dy="11.5">materials to</tspan><tspan x="3155" dy="11.5">make sure that</tspan><tspan x="3155" dy="11.5">they're well</tspan><tspan x="3155" dy="11.5">prepared to</tspan><tspan x="3155" dy="11.5">complete the</tspan><tspan x="3155" dy="11.5">necessary job</tspan><tspan x="3155" dy="11.5">tasks.</tspan></text></g>

<g id="b1"><rect class="bl" x="424.5" y="716" width="69.5" height="54"/><text class="t" y="728.65"><tspan x="459.2">An employee</tspan><tspan x="459.2" dy="11.5">sets up to meet</tspan><tspan x="459.2" dy="11.5">with business</tspan><tspan x="459.2" dy="11.5">owner and HR.</tspan></text></g>
<g id="b2"><rect class="bl" x="541" y="716" width="70" height="100"/><text class="t" y="728.65"><tspan x="576">During the</tspan><tspan x="576" dy="11.5">meeting the</tspan><tspan x="576" dy="11.5">employee tells</tspan><tspan x="576" dy="11.5">the business</tspan><tspan x="576" dy="11.5">owner that they</tspan><tspan x="576" dy="11.5">have found a</tspan><tspan x="576" dy="11.5">new job else</tspan><tspan x="576" dy="11.5">where.</tspan></text></g>
<g id="b3"><rect class="bl" x="658" y="716" width="69.5" height="111"/><text class="t" y="728.4"><tspan x="692.7">Business owner</tspan><tspan x="692.7" dy="11.5">and other</tspan><tspan x="692.7" dy="11.5">relevant</tspan><tspan x="692.7" dy="11.5">employees</tspan><tspan x="692.7" dy="11.5">discuss that</tspan><tspan x="692.7" dy="11.5">they need to fill</tspan><tspan x="692.7" dy="11.5">the position</tspan><tspan x="692.7" dy="11.5">that will soon</tspan><tspan x="692.7" dy="11.5">be vacant.</tspan></text></g>
<g id="b3n"><rect class="bk" x="658" y="862" width="69.5" height="88.6"/><text class="t" y="874.7"><tspan x="692.7">The business</tspan><tspan x="692.7" dy="11.5">owner now has</tspan><tspan x="692.7" dy="11.5">a vacant</tspan><tspan x="692.7" dy="11.5">position to fill.</tspan><tspan x="692.7" dy="11.5">They decide</tspan><tspan x="692.7" dy="11.5">what the next</tspan><tspan x="692.7" dy="11.5">steps will be</tspan></text></g>
<g id="b4"><rect class="bl" x="774.5" y="716" width="69.5" height="77"/><text class="t" y="728.65"><tspan x="809.2">They decide to</tspan><tspan x="809.2" dy="11.5">draft a job</tspan><tspan x="809.2" dy="11.5">posting and</tspan><tspan x="809.2" dy="11.5">place it on</tspan><tspan x="809.2" dy="11.5">various</tspan><tspan x="809.2" dy="11.5">platforms.</tspan></text></g>
<g id="b5"><rect class="bl" x="890" y="716" width="70" height="54"/><text class="t" y="728.65"><tspan x="925">They research</tspan><tspan x="925" dy="11.5">which platforms</tspan><tspan x="925" dy="11.5">they could</tspan><tspan x="925" dy="11.5">possibly use.</tspan></text></g>
<g id="b5n"><rect class="bk" x="890" y="803" width="70" height="100.7"/><text class="t" y="816"><tspan x="925">They need a</tspan><tspan x="925" dy="11.5">platform to</tspan><tspan x="925" dy="11.5">advertise their</tspan><tspan x="925" dy="11.5">job posting on.</tspan><tspan x="925" dy="11.5">This takes</tspan><tspan x="925" dy="11.5">unnecessary</tspan><tspan x="925" dy="11.5">time to look for</tspan><tspan x="925" dy="11.5">platforms.</tspan></text></g>
<g id="b6"><rect class="bl" x="1008" y="716" width="69.5" height="65.7"/><text class="t" y="728.75"><tspan x="1042.8">They decide to</tspan><tspan x="1042.8" dy="11.5">only create</tspan><tspan x="1042.8" dy="11.5">social media</tspan><tspan x="1042.8" dy="11.5">ads in order to</tspan><tspan x="1042.8" dy="11.5">save money.</tspan></text></g>
<g id="b7"><rect class="bl" x="1125" y="716" width="69" height="65.7"/><text class="t" y="728.75"><tspan x="1159.5">They post the</tspan><tspan x="1159.5" dy="11.5">new position</tspan><tspan x="1159.5" dy="11.5">that is available</tspan><tspan x="1159.5" dy="11.5">on their social</tspan><tspan x="1159.5" dy="11.5">media pages.</tspan></text></g>
<g id="b8"><rect class="pk" x="1242" y="716" width="69" height="54"/><text class="t" y="728.65"><tspan x="1276.5">They receive</tspan><tspan x="1276.5" dy="11.5">feedback from</tspan><tspan x="1276.5" dy="11.5">various</tspan><tspan x="1276.5" dy="11.5">candidates.</tspan></text></g>
<g id="b9"><rect class="pk" x="1358.6" y="710" width="69.4" height="77"/><text class="t" y="722.65"><tspan x="1393.3">They wait till the</tspan><tspan x="1393.3" dy="11.5">posting date</tspan><tspan x="1393.3" dy="11.5">has expired</tspan><tspan x="1393.3" dy="11.5">until they start</tspan><tspan x="1393.3" dy="11.5">to review the</tspan><tspan x="1393.3" dy="11.5">candidates</tspan></text></g>
<g id="b10"><rect class="pk" x="1474" y="716" width="70" height="54"/><text class="t" y="728.65"><tspan x="1509">Once the CVs</tspan><tspan x="1509" dy="11.5">are received,</tspan><tspan x="1509" dy="11.5">they are then</tspan><tspan x="1509" dy="11.5">categorised</tspan></text></g>
<g id="b10n"><rect class="bk" x="1474" y="840" width="70" height="65"/><text class="t" y="852.4"><tspan x="1509">They download</tspan><tspan x="1509" dy="11.5">/ view all the</tspan><tspan x="1509" dy="11.5">candidates on</tspan><tspan x="1509" dy="11.5">their desktop or</tspan><tspan x="1509" dy="11.5">mobile</tspan></text></g>
<g id="b11"><rect class="pk" x="1591" y="716" width="70" height="88"/><text class="t" y="728.4"><tspan x="1626">H.R would then</tspan><tspan x="1626" dy="11.5">separate the</tspan><tspan x="1626" dy="11.5">CVs based on</tspan><tspan x="1626" dy="11.5">candidates who</tspan><tspan x="1626" dy="11.5">meet the</tspan><tspan x="1626" dy="11.5">minimum</tspan><tspan x="1626" dy="11.5">requirements</tspan></text></g>
<g id="b12"><rect class="pk" x="1709" y="721.7" width="68" height="65.3"/><text class="t" y="734.25"><tspan x="1743">CVs who do not</tspan><tspan x="1743" dy="11.5">meet these</tspan><tspan x="1743" dy="11.5">requirements</tspan><tspan x="1743" dy="11.5">are then</tspan><tspan x="1743" dy="11.5">archived</tspan></text></g>
<g id="b13"><rect class="pk" x="1825" y="724" width="69" height="100"/><text class="t" y="736.65"><tspan x="1859.5">CVs that meet</tspan><tspan x="1859.5" dy="11.5">the minimum</tspan><tspan x="1859.5" dy="11.5">requirements</tspan><tspan x="1859.5" dy="11.5">would then be</tspan><tspan x="1859.5" dy="11.5">sent to line</tspan><tspan x="1859.5" dy="11.5">managers who</tspan><tspan x="1859.5" dy="11.5">would then</tspan><tspan x="1859.5" dy="11.5">further shortlist</tspan></text></g>
<g id="b14"><rect class="pk" x="1942.6" y="712" width="68.4" height="54"/><text class="t" y="724.65"><tspan x="1976.8">They interview</tspan><tspan x="1976.8" dy="11.5">the candidates</tspan><tspan x="1976.8" dy="11.5">that have been</tspan><tspan x="1976.8" dy="11.5">shortlist.</tspan></text></g>
<g id="b15"><rect class="pk" x="2059" y="718" width="70" height="66"/><text class="t" y="730.9"><tspan x="2094">They discuss</tspan><tspan x="2094" dy="11.5">which</tspan><tspan x="2094" dy="11.5">candidates best</tspan><tspan x="2094" dy="11.5">suits the</tspan><tspan x="2094" dy="11.5">position.</tspan></text></g>
<g id="b16"><rect class="pk" x="2175.6" y="720.7" width="69.4" height="42.3"/><text class="t" y="733.25"><tspan x="2210.3">They inform the</tspan><tspan x="2210.3" dy="11.5">candidate of the</tspan><tspan x="2210.3" dy="11.5">good news.</tspan></text></g>
<g id="b17"><rect class="gr" x="2292.5" y="734" width="69.5" height="88"/><text class="t" y="746.4"><tspan x="2327.2">The employee</tspan><tspan x="2327.2" dy="11.5">would be</tspan><tspan x="2327.2" dy="11.5">welcomed to</tspan><tspan x="2327.2" dy="11.5">the team and</tspan><tspan x="2327.2" dy="11.5">an onboarding</tspan><tspan x="2327.2" dy="11.5">session would</tspan><tspan x="2327.2" dy="11.5">be initiated</tspan></text></g>
<g id="b18"><rect class="gr" x="2409" y="734" width="69" height="77"/><text class="t" y="746.65"><tspan x="2443.5">The employee</tspan><tspan x="2443.5" dy="11.5">would be given</tspan><tspan x="2443.5" dy="11.5">the necessary</tspan><tspan x="2443.5" dy="11.5">materials</tspan><tspan x="2443.5" dy="11.5">required to do</tspan><tspan x="2443.5" dy="11.5">their job</tspan></text></g>
<g id="b19"><rect class="gr" x="2526.4" y="728" width="69.3" height="145.7"/><text class="t" y="740.5"><tspan x="2561">They set up a</tspan><tspan x="2561" dy="11.5">probation</tspan><tspan x="2561" dy="11.5">period. If they</tspan><tspan x="2561" dy="11.5">are satisfied</tspan><tspan x="2561" dy="11.5">with the</tspan><tspan x="2561" dy="11.5">candidates</tspan><tspan x="2561" dy="11.5">work</tspan><tspan x="2561" dy="11.5">performance,</tspan><tspan x="2561" dy="11.5">they continue</tspan><tspan x="2561" dy="11.5">their journey</tspan><tspan x="2561" dy="11.5">with the</tspan><tspan x="2561" dy="11.5">candidate.</tspan></text></g>
<g id="b19n"><rect class="bk" x="2526.4" y="892" width="69.3" height="100"/><text class="t" y="904.65"><tspan x="2561">The business</tspan><tspan x="2561" dy="11.5">owner sets up a</tspan><tspan x="2561" dy="11.5">probation</tspan><tspan x="2561" dy="11.5">period as a</tspan><tspan x="2561" dy="11.5">safety / final</tspan><tspan x="2561" dy="11.5">step to hiring</tspan><tspan x="2561" dy="11.5">the new</tspan><tspan x="2561" dy="11.5">candidate</tspan></text></g>
<g id="b20"><rect class="gr" x="2644" y="728" width="69.6" height="123"/><text class="t" y="740.65"><tspan x="2678.8">After the</tspan><tspan x="2678.8" dy="11.5">probation</tspan><tspan x="2678.8" dy="11.5">period, they are</tspan><tspan x="2678.8" dy="11.5">happy with the</tspan><tspan x="2678.8" dy="11.5">candidates</tspan><tspan x="2678.8" dy="11.5">performance</tspan><tspan x="2678.8" dy="11.5">and they</tspan><tspan x="2678.8" dy="11.5">continue their</tspan><tspan x="2678.8" dy="11.5">work</tspan><tspan x="2678.8" dy="11.5">relationship</tspan></text></g>

<text id="logo" x="3203" y="1122" font-size="52" font-weight="400" letter-spacing="2" fill="#c3cad8" text-anchor="middle" style="font-family:Lato,'Open Sans',sans-serif">miro</text>
</svg>
